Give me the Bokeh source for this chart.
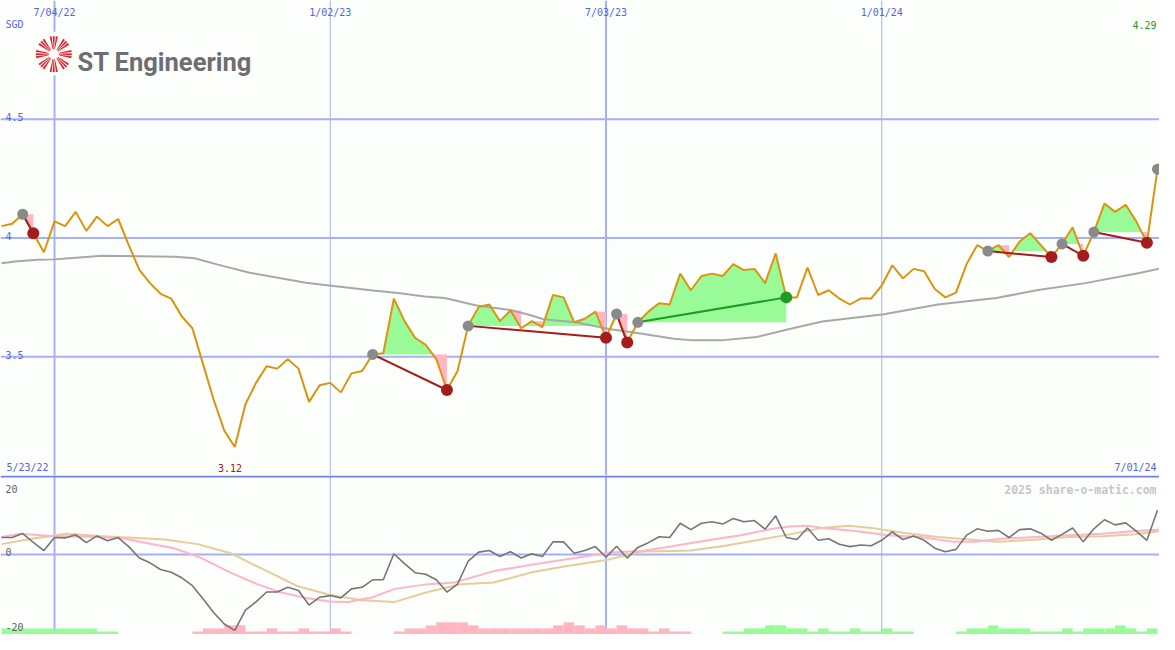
import numpy as np
from bokeh.plotting import figure
from bokeh.layouts import column
from bokeh.models import Range1d, Span
from bokeh.core.properties import value
from bokeh.embed import file_html
from bokeh.resources import INLINE

# ---------------- data (weekly, first point 5/30/22) ----------------
price = [4.05, 4.06, 4.10, 4.02, 3.94, 4.07, 4.05, 4.11, 4.03, 4.09,
         4.05, 4.08, 3.97, 3.866, 3.81, 3.765, 3.745, 3.67, 3.62, 3.47,
         3.32, 3.19, 3.12, 3.30, 3.39, 3.46, 3.45, 3.49, 3.45, 3.31,
         3.38, 3.39, 3.35, 3.43, 3.44, 3.51, 3.515, 3.745, 3.65, 3.58,
         3.55, 3.49, 3.36, 3.44, 3.63, 3.71, 3.72, 3.65, 3.695, 3.62,
         3.65, 3.625, 3.76, 3.75, 3.645, 3.66, 3.69, 3.58, 3.68, 3.56,
         3.645, 3.69, 3.725, 3.72, 3.85, 3.78, 3.84, 3.85, 3.84, 3.89,
         3.865, 3.87, 3.81, 3.935, 3.75, 3.75, 3.875, 3.76, 3.78, 3.745,
         3.72, 3.745, 3.745, 3.80, 3.885, 3.83, 3.87, 3.86, 3.785, 3.75,
         3.77, 3.89, 3.97, 3.945, 3.97, 3.92, 3.985, 4.02, 3.97, 3.92,
         3.975, 4.045, 3.925, 4.025, 4.145, 4.11, 4.14, 4.07, 3.98, 4.29]

ma_w = [0, 1.5, 3.4, 5, 6.4, 9.5, 16.4, 18.2, 20.4, 23.4, 28.7, 31.3, 35, 37.4, 39.9,
        41.8, 44.8, 46.4, 48, 49.9, 51.1, 54.1, 57.3, 60.4, 63.4, 65, 68.1, 71.2, 74.3,
        77.4, 83.2, 88.3, 93.8, 97.6, 102.2, 107.3, 109.2]
ma_v = [3.894, 3.902, 3.908, 3.91, 3.915, 3.925, 3.921, 3.915, 3.888, 3.854, 3.812, 3.798,
        3.779, 3.768, 3.754, 3.747, 3.716, 3.706, 3.697, 3.675, 3.658, 3.645, 3.617, 3.597,
        3.576, 3.57, 3.57, 3.583, 3.617, 3.648, 3.679, 3.72, 3.747, 3.78, 3.81, 3.853, 3.871]

osc = [4.3, 4.3, 5.3, 3.1, 1.0, 4.3, 4.2, 5.0, 3.0, 4.7,
       3.5, 4.3, 2.0, -0.9, -2.1, -3.8, -4.5, -5.9, -7.9, -11.2,
       -14.7, -17.6, -19.2, -14.1, -12.0, -9.5, -9.5, -8.3, -9.1, -12.8,
       -10.8, -10.4, -11.0, -8.7, -8.3, -6.4, -6.4, 0.2, -2.3, -4.6,
       -5.0, -6.4, -9.5, -7.5, -1.7, 0.6, 1.0, -0.5, 0.7, -0.9,
       0.2, -0.5, 3.2, 3.2, 0.3, 1.0, 2.0, -0.7, 2.1, -0.9,
       1.8, 3.0, 4.5, 4.3, 7.9, 6.3, 7.9, 8.3, 7.7, 9.1,
       8.3, 8.6, 6.4, 9.8, 4.3, 3.8, 6.7, 3.6, 4.0, 2.6,
       2.0, 2.4, 2.2, 3.6, 5.7, 3.8, 4.7, 3.6, 1.6, 0.7,
       1.3, 4.9, 6.5, 5.9, 6.1, 4.3, 6.3, 6.5, 5.4, 3.6,
       5.1, 6.7, 3.2, 6.5, 8.8, 7.5, 8.0, 5.9, 3.6, 11.2]

sig_w = [0, 1.8, 4.6, 9.2, 11.5, 13.9, 16.3, 18.5, 21.6, 24.1, 26.2, 28.7, 30.9, 32.7,
         35, 37.1, 40.2, 42.7, 46.4, 50.1, 54.1, 57.3, 60.4, 63.4, 66.6, 69.7, 72.7, 74.3,
         76, 77.4, 80.5, 83.6, 86.7, 89.8, 91.7, 94.5, 97.6, 100.6, 103.8, 106.9, 109.2]
sig_v = [4.45, 5.26, 4.69, 4.45, 4.03, 2.8, 1.56, -0.49, -4.6, -7.5, -9.5, -11.0, -11.9,
         -12.0, -10.8, -8.7, -7.5, -7.1, -4.2, -2.55, -0.9, 0.49, 0.91, 2.14, 3.62, 4.86,
         6.5, 7.1, 7.3, 6.74, 5.93, 4.86, 4.45, 3.2, 3.2, 4.03, 4.45, 4.86, 5.26, 5.93, 6.25]

slow_w = [0, 3, 6.1, 9.2, 12.3, 15.4, 18.5, 21.6, 24.7, 27.8, 30.9, 34, 37.1, 40.2, 43.3,
          46.4, 50.1, 53.2, 56.9, 60.4, 63.4, 65, 68.1, 71.2, 74.3, 77.4, 79.9, 82, 85.2,
          88.3, 91.3, 93.8, 97.6, 100.6, 103.8, 106.9, 109.2]
slow_v = [2.63, 4.03, 5.26, 4.69, 4.27, 3.78, 2.63, 0.33, -3.79, -7.9, -10.2, -11.6, -12.0,
          -9.5, -7.5, -7.1, -4.45, -2.96, -1.48, 0.74, 0.91, 0.99, 2.14, 3.62, 5.1, 6.74,
          7.3, 6.74, 5.43, 4.45, 3.78, 3.2, 3.78, 4.45, 4.6, 5.1, 5.93]

# signed histogram levels (+ green, - pink)
bars = [2, 2, 2, 2, 2, 2, 2, 2, 2, 1,
        1, 0, 0, 0, 0, 0, 0, 0, -1, -2,
        -2, -3, -3, -1, -1, -2, -1, -1, -2, -1,
        -1, -2, -1, 0, 0, 0, 0, -1, -2, -2,
        -3, -4, -4, -4, -3, -2, -2, -2, -2, -2,
        -2, -2, -3, -4, -3, -2, -3, -2, -3, -2,
        -2, -1, -2, -1, -1, 0, 0, 0, 1, 1,
        2, 2, 3, 3, 2, 2, 1, 2, 1, 1,
        2, 1, 1, 2, 1, 1, 0, 0, 0, 0,
        1, 2, 2, 3, 2, 2, 2, 1, 1, 1,
        2, 1, 2, 2, 2, 3, 2, 1, 2, 0]

gray_pts = [2, 35, 44, 58, 60, 93, 100, 103, 109]
red_pts = [3, 42, 57, 59, 99, 102, 108]
green_pts = [74]
red_trends = [(2, 3), (35, 42), (44, 57), (58, 59), (93, 99), (100, 102), (103, 108)]
green_trends = [(60, 74)]
green_zones = [(35, 42), (44, 57), (60, 74), (93, 99), (100, 102), (103, 108)]
pink_zones = [(2, 3, 2), (40, 42, 35), (48, 49, 48), (50, 51, 50), (56, 57, 56), (58, 59, 58),
              (94, 95, 94), (98, 99, 93), (101, 102, 100), (107, 108, 103)]

grid_weeks = [5, 31, 57, 83]
grid_labels = ["7/04/22", "1/02/23", "7/03/23", "1/01/24"]
grid_major = [True, False, True, False]
price_ticks = [4.5, 4.0, 3.5]
price_tick_labels = ["4.5", "4", "3.5"]
osc_ticks = [20, 0, -20]
start_label, end_label = "5/23/22", "7/01/24"
currency = "SGD"
last_label = "4.29"
low_label = "3.12"
credit = "2025 share-o-matic.com"
company = "ST Engineering"

# ---------------- styling / layout ----------------
W, H1, H2 = 1159, 475, 159
OW, OH1, OH2 = 1175.0, 487.0, 163.0
XR = (-0.093, 109.19)
YR1 = (3.0, 5.0)
YR2 = (-20.25, 20.0)
BG = "#fcfefc"
GRID = "#a6b0f2"
SEP = "#7282ea"
BLUE_TXT = "#5266e4"
ORANGE = "#dc9410"
MA_COL = "#a8a8a8"
PALEGREEN = "#98fb98"
PINK = "#ffb6c1"
DARKRED = "#a51c1c"
GREEN = "#229b22"
MONO = value("DejaVu Sans Mono")


def wk(xo):
    return XR[0] + (XR[1] - XR[0]) * xo / OW


def py(yo):
    return YR1[1] - (YR1[1] - YR1[0]) * yo / OH1


def oy(yo):
    return YR2[1] - (YR2[1] - YR2[0]) * (yo - OH1) / OH2


xr = Range1d(*XR)


def make_fig(h, yr):
    return figure(width=W, height=h, x_range=xr, y_range=Range1d(*yr),
                  x_axis_type=None, y_axis_type=None, toolbar_location=None,
                  output_backend="svg", min_border=0, background_fill_color=BG,
                  border_fill_color=BG, outline_line_color=None)


p1 = make_fig(H1, YR1)
p2 = make_fig(H2, YR2)

for f in (p1, p2):
    for w, major in zip(grid_weeks, grid_major):
        f.add_layout(Span(location=w, dimension="height", line_color=GRID,
                          line_width=2 if major else 1, level="underlay"))
for t in price_ticks:
    p1.add_layout(Span(location=t, dimension="width", line_color=GRID, line_width=2, level="underlay"))
p2.add_layout(Span(location=0, dimension="width", line_color=GRID, line_width=2, level="underlay"))
p2.add_layout(Span(location=oy(488), dimension="width", line_color=SEP, line_width=2, level="underlay"))

price_a = np.array(price)


def zone_xy(i0, i1, level):
    xs, ys = [], []
    for i in range(i0, i1):
        y0, y1 = price_a[i], price_a[i + 1]
        xs.append(i); ys.append(y0)
        if (y0 - level) * (y1 - level) < 0:
            t = (level - y0) / (y1 - y0)
            xs.append(i + t); ys.append(level)
    xs.append(i1); ys.append(price_a[i1])
    return np.array(xs, float), np.array(ys)


for i0, i1 in green_zones:
    lvl = price_a[i0]
    xs, ys = zone_xy(i0, i1, lvl)
    p1.varea(x=xs, y1=np.full(len(xs), lvl), y2=np.maximum(ys, lvl), fill_color=PALEGREEN)
for i0, i1, li in pink_zones:
    lvl = price_a[li]
    xs, ys = zone_xy(i0, i1, lvl)
    p1.varea(x=xs, y1=np.minimum(ys, lvl), y2=np.full(len(xs), lvl), fill_color=PINK)

# logo
cx, cy = wk(54), py(55)
p1.quad(left=[wk(33)], right=[wk(256)], bottom=[py(77)], top=[py(32)], fill_color=BG, line_color=None)
ang_s, ang_e = [], []
for k in range(8):
    for off in (-10, 0, 10):
        c = k * 45 + off
        ang_s.append(np.radians(c - 3.2)); ang_e.append(np.radians(c + 3.2))
p1.annular_wedge(x=cx, y=cy, inner_radius=5, outer_radius=18, inner_radius_units="screen",
                 outer_radius_units="screen", start_angle=ang_s, end_angle=ang_e,
                 fill_color="#e3202a", line_color=None)
p1.text(x=[wk(78)], y=[py(63.5)], text=[company], text_font=value("Roboto"),
        text_font_style="bold", text_font_size="25.5px", text_color="#6d6e71", text_baseline="alphabetic")

p1.line(ma_w, ma_v, line_color=MA_COL, line_width=2)
p1.line(list(range(len(price))), price, line_color=ORANGE, line_width=2)

for a, b in red_trends:
    p1.segment(x0=[a], y0=[price[a]], x1=[b], y1=[price[b]], line_color=DARKRED, line_width=2)
for a, b in green_trends:
    p1.segment(x0=[a], y0=[price[a]], x1=[b], y1=[price[b]], line_color=GREEN, line_width=2)

p1.scatter(gray_pts, [price[i] for i in gray_pts], size=11, fill_color="#8a8a8a", line_color=None)
p1.scatter(red_pts, [price[i] for i in red_pts], size=12, fill_color=DARKRED, line_color=None)
p1.scatter(green_pts, [price[i] for i in green_pts], size=12, fill_color=GREEN, line_color=None)

# texts upper
p1.text(x=grid_weeks, y=[py(12.5)] * 4, text=grid_labels, text_font=MONO, text_font_size="10px",
        text_color=BLUE_TXT, text_align="center", text_baseline="alphabetic")
p1.text(x=[wk(5)], y=[py(25)], text=[currency], text_font=MONO, text_font_size="10px",
        text_color=BLUE_TXT, text_baseline="alphabetic")
p1.text(x=[wk(5)] * 3, y=[py(OH1 * (YR1[1] - t) / 2.0 - 2) for t in price_ticks], text=price_tick_labels,
        text_font=MONO, text_font_size="10px", text_color=BLUE_TXT, text_baseline="alphabetic")
p1.text(x=[wk(6)], y=[py(479)], text=[start_label], text_font=MONO, text_font_size="10px",
        text_color=BLUE_TXT, text_baseline="alphabetic")
p1.text(x=[wk(1172)], y=[py(479)], text=[end_label], text_font=MONO, text_font_size="10px",
        text_color=BLUE_TXT, text_align="right", text_baseline="alphabetic")
imin = int(np.argmin(price_a))
p1.text(x=[imin - 0.45], y=[py(479)], text=[low_label], text_font=MONO, text_font_size="10px",
        text_color="#a0201e", text_align="center", text_baseline="alphabetic")
p1.text(x=[wk(1172)], y=[py(25)], text=[last_label], text_font=MONO, text_font_size="10px",
        text_color="#1f9a1f", text_align="right", text_baseline="alphabetic")

# lower panel
idx = np.arange(len(bars))
lv = np.array(bars)
gm = lv > 0
pm = lv < 0
unit = 0.77
p2.quad(left=idx[gm], right=idx[gm] + 1, bottom=YR2[0], top=YR2[0] + lv[gm] * unit,
        fill_color=PALEGREEN, line_color=None)
p2.quad(left=idx[pm], right=idx[pm] + 1, bottom=YR2[0], top=YR2[0] - lv[pm] * unit,
        fill_color=PINK, line_color=None)
p2.line(slow_w, slow_v, line_color="#e6cc98", line_width=2)
p2.line(sig_w, sig_v, line_color="#ffb4c8", line_width=2)
p2.line(list(range(len(osc))), osc, line_color="#767676", line_width=1.6)

p2.text(x=[wk(5)] * 3, y=[oy(501), oy(565), oy(642)], text=[str(t) for t in osc_ticks],
        text_font=MONO, text_font_size="10px", text_color="#606060", text_baseline="alphabetic")
p2.text(x=[wk(1172)], y=[oy(502)], text=[credit], text_font=MONO, text_font_style="bold",
        text_font_size="11.5px", text_color="#c6c6c6", text_align="right", text_baseline="alphabetic")

layout = column(p1, p2, spacing=0)
open("out.html", "w").write(file_html(layout, INLINE))
